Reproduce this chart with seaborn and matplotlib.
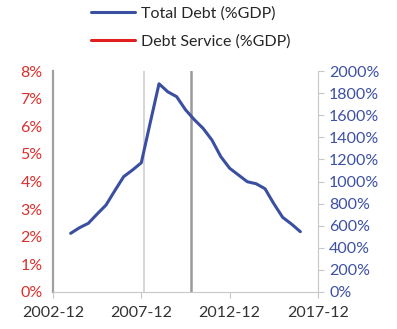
import matplotlib
matplotlib.use("Agg")
import matplotlib.pyplot as plt
import matplotlib.dates as mdates
from matplotlib.ticker import FuncFormatter
import seaborn as sns
import pandas as pd

sns.set_style("white")
plt.rcParams['font.family'] = ['Lato', 'DejaVu Sans']

# ---- data ----
dates = ["2003-12", "2004-06", "2004-12", "2005-06", "2005-12", "2006-06", "2006-12",
         "2007-06", "2007-12", "2008-06", "2008-12", "2009-06", "2009-12", "2010-06",
         "2010-12", "2011-06", "2011-12", "2012-06", "2012-12", "2013-06", "2013-12",
         "2014-06", "2014-12", "2015-06", "2015-12", "2016-06", "2016-12"]
total_debt = [531, 582, 622, 706, 787, 917, 1044, 1104, 1170, 1530, 1885, 1812, 1768,
              1650, 1560, 1481, 1375, 1225, 1120, 1059, 998, 980, 935, 800, 676, 615, 546]
debt_service = []  # no visible values in the chart
event_dates = ["2008-02-01", "2010-09-30"]
x_ticks = ["2002-12", "2007-12", "2012-12", "2017-12"]
left_ticks = [0, 1, 2, 3, 4, 5, 6, 7, 8]
right_ticks = [0, 200, 400, 600, 800, 1000, 1200, 1400, 1600, 1800, 2000]

df = pd.DataFrame({"date": pd.to_datetime(dates), "total_debt": total_debt})

RED = "#d9302c"
BLUE = "#3d50a5"
LINE_BLUE = "#3a4f9f"

fig = plt.figure(figsize=(3.97, 3.29), dpi=100)
ax = fig.add_axes([0.1335, 0.1125, 0.6675, 0.6715])
ax2 = ax.twinx()

# vertical event lines
ax.axvline(pd.Timestamp(event_dates[0]), color="#cfcfcf", lw=1.2, zorder=1)
ax.axvline(pd.Timestamp(event_dates[1]), color="#9a9a9a", lw=1.8, zorder=1)

# debt service (left axis) - no visible data
ax.plot([], [], color="#e0201f", lw=2.2, label="Debt Service (%GDP)")

sns.lineplot(data=df, x="date", y="total_debt", ax=ax2, color=LINE_BLUE, lw=2.2,
             label="Total Debt (%GDP)", legend=False)

ax.set_xlim(pd.Timestamp(x_ticks[0]), pd.Timestamp(x_ticks[-1]))
ax.set_xticks([pd.Timestamp(t) for t in x_ticks])
ax.xaxis.set_major_formatter(mdates.DateFormatter("%Y-%m"))

ax.set_ylim(0, 8)
ax.set_yticks(left_ticks)
ax.yaxis.set_major_formatter(FuncFormatter(lambda v, p: f"{v:.0f}%"))
ax2.set_ylim(0, 2000)
ax2.set_yticks(right_ticks)
ax2.yaxis.set_major_formatter(FuncFormatter(lambda v, p: f"{v:.0f}%"))

for a in (ax, ax2):
    a.set_xlabel("")
    a.set_ylabel("")
    a.grid(False)
    a.spines["top"].set_visible(False)

ax.spines["left"].set_color("#a0a0a0")
ax.spines["left"].set_linewidth(1.6)
ax.spines["bottom"].set_color("#c8c8c8")
ax.spines["right"].set_visible(False)
ax2.spines["left"].set_visible(False)
ax2.spines["bottom"].set_visible(False)
ax2.spines["right"].set_color("#c8c8c8")

ax.tick_params(axis="y", which="both", left=False, labelcolor=RED, labelsize=11.5, pad=4)
ax.tick_params(axis="x", bottom=True, direction="out", length=4, color="#c8c8c8",
               labelcolor="#333333", labelsize=11.5, pad=6)
ax2.tick_params(axis="y", right=True, direction="out", length=4, color="#c8c8c8",
                labelcolor=BLUE, labelsize=11.5, pad=4)

h1, l1 = ax2.get_legend_handles_labels()
h0, l0 = ax.get_legend_handles_labels()
fig.legend(h1 + h0, l1 + l0, loc="upper left", bbox_to_anchor=(91 / 397, 1 - 6 / 329),
           frameon=False, fontsize=11.5, handlelength=2.75, labelspacing=0.85,
           handletextpad=0.35, borderpad=0, borderaxespad=0)

fig.savefig("out.png", dpi=100)
